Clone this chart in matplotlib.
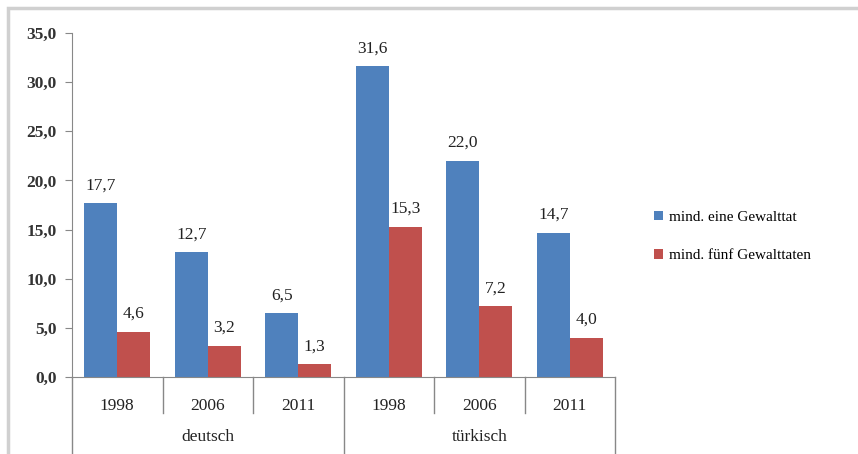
import matplotlib
matplotlib.use("Agg")
import matplotlib.pyplot as plt
import numpy as np
from matplotlib.patches import Rectangle
from matplotlib.lines import Line2D

groups = ["deutsch", "türkisch"]
years = ["1998", "2006", "2011", "1998", "2006", "2011"]
series_names = ["mind. eine Gewalttat", "mind. fünf Gewalttaten"]
eine = [17.7, 12.7, 6.5, 31.6, 22.0, 14.7]
fuenf = [4.6, 3.2, 1.3, 15.3, 7.2, 4.0]
yticks = [0, 5, 10, 15, 20, 25, 30, 35]

plt.rcParams['font.family'] = ['Liberation Serif', 'DejaVu Serif']

fig = plt.figure(figsize=(8.58, 4.54), dpi=100)
W, H = 858, 454
# outer frame
fig.patches.append(Rectangle((8 / W, -0.1), 1.2, (1 - 8 / H) + 0.1, transform=fig.transFigure,
                             fill=False, edgecolor='#d0d0d0', linewidth=2.5))

ax = fig.add_axes([72 / W, 1 - 377 / H, (615 - 72) / W, (377 - 33) / H])
x = np.arange(len(years))
bw = 0.365
c_blue = '#4F81BD'
c_red = '#C0504D'
b1 = ax.bar(x - bw / 2, eine, bw, color=c_blue, label=series_names[0])
b2 = ax.bar(x + bw / 2, fuenf, bw, color=c_red, label=series_names[1])

def fmt(v):
    return f"{v:.1f}".replace('.', ',')

fs = 12.5
for xi, v in zip(x, eine):
    ax.annotate(fmt(v), (xi - bw / 2, v), xytext=(0, 7), textcoords='offset points',
                ha='center', va='bottom', fontsize=fs, color='#222222')
for xi, v in zip(x, fuenf):
    ax.annotate(fmt(v), (xi + bw / 2, v), xytext=(0, 7), textcoords='offset points',
                ha='center', va='bottom', fontsize=fs, color='#222222')

ax.set_xlim(-0.5, len(years) - 0.5)
ax.set_ylim(0, 35)
ax.set_yticks(yticks)
ax.set_yticklabels([fmt(t) for t in yticks], fontsize=fs, fontweight='bold', color='#333333')
ax.tick_params(axis='y', direction='out', length=5, color='#888888', pad=6)
for s in ['top', 'right']:
    ax.spines[s].set_visible(False)
ax.spines['left'].set_color('#888888')
ax.spines['bottom'].set_color('#888888')
ax.set_xticks([])

trans = ax.get_xaxis_transform()
# year labels and separators
for i, yl in enumerate(years):
    ax.text(i, -0.085, yl, transform=trans, ha='center', va='center', fontsize=fs, color='#222222')
for b in np.arange(0.5, len(years) - 0.5, 1.0):
    if abs(b - 2.5) < 1e-6:
        continue
    ax.add_line(Line2D([b, b], [0, -0.105], transform=trans, color='#888888', lw=1, clip_on=False))
for b in [-0.5, 2.5, 5.5]:
    ax.add_line(Line2D([b, b], [0, -0.22], transform=trans, color='#888888', lw=1, clip_on=False))
for gi, g in enumerate(groups):
    ax.text(gi * 3 + 1, -0.175, g, transform=trans, ha='center', va='center', fontsize=fs, color='#222222')

fig.legend(handles=[b1, b2], labels=series_names, loc='upper left',
           bbox_to_anchor=(640 / W, 1 - 197 / H), frameon=False, fontsize=11,
           handlelength=0.6, handleheight=0.6, labelspacing=1.65, handletextpad=0.4)

fig.savefig("out.png", dpi=100)
